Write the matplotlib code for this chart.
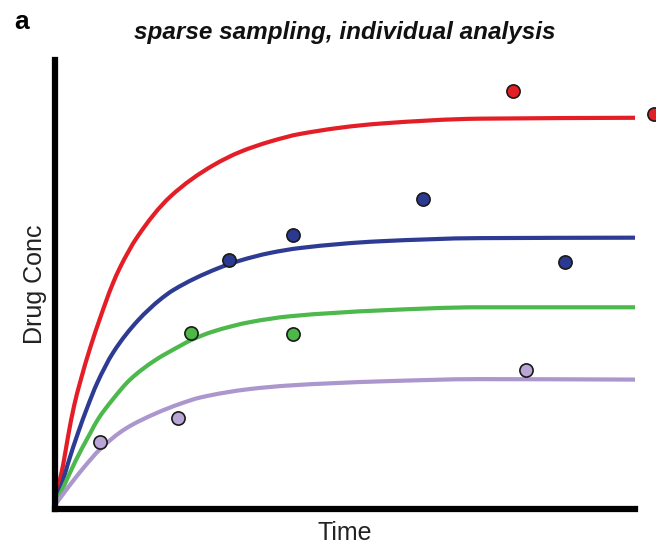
import matplotlib as mpl
mpl.use('Agg')
import matplotlib.pyplot as plt
from matplotlib.path import Path
from matplotlib.patches import PathPatch
import numpy as np

plt.rc('font', family=['Liberation Sans', 'DejaVu Sans'])

# ------------------------------------------------------------------
# Model curves (time and concentration, arbitrary units)
red_t = [0, 0.034, 0.138, 0.224, 0.328, 0.431, 0.603, 0.776, 0.983, 1.121,
         1.414, 1.983, 2.724, 3.190, 3.707, 4.224, 5.603, 7.328, 10.0]
red_c = [0.09, 0.36, 0.98, 1.62, 2.30, 2.82, 3.58, 4.25, 4.98, 5.38,
         6.05, 6.95, 7.65, 7.95, 8.18, 8.35, 8.58, 8.69, 8.71]
blue_t = [0, 0.121, 0.224, 0.397, 0.552, 0.724, 1.0, 1.431, 1.810, 2.034,
          2.793, 3.190, 3.707, 4.224, 5.603, 7.328, 10.0]
blue_c = [0.09, 0.57, 1.02, 1.70, 2.25, 2.80, 3.48, 4.20, 4.66, 4.87,
          5.35, 5.53, 5.70, 5.81, 5.96, 6.03, 6.04]
green_t = [0, 0.121, 0.345, 0.603, 0.741, 0.983, 1.293, 1.724, 2.155, 2.345,
           2.724, 3.362, 4.052, 5.603, 7.328, 10.0]
green_c = [0.09, 0.42, 1.05, 1.68, 2.00, 2.42, 2.88, 3.31, 3.63, 3.76,
           3.95, 4.16, 4.29, 4.42, 4.49, 4.49]
purple_t = [0, 0.103, 0.224, 0.362, 0.500, 0.776, 1.207, 1.759, 2.155, 2.500,
            3.362, 4.052, 5.603, 7.328, 10.0]
purple_c = [0.09, 0.27, 0.48, 0.71, 0.93, 1.33, 1.78, 2.14, 2.34, 2.48,
            2.67, 2.75, 2.84, 2.89, 2.88]

# sparse observations
red_obs_t = [7.9, 10.33]
red_obs_c = [9.30, 8.80]
blue_obs_t = [3.0, 4.1, 6.34, 8.79]
blue_obs_c = [5.54, 6.10, 6.90, 5.50]
green_obs_t = [2.34, 4.1]
green_obs_c = [3.92, 3.90]
purple_obs_t = [0.78, 2.12, 8.12]
purple_obs_c = [1.48, 2.02, 3.10]

line_cols = ['#E41E26', '#2E3B93', '#4DB84B', '#AB96CD']
dot_cols = ['#E31E24', '#2B3990', '#4DB848', '#B9A6D6']


def smooth_path(t, c):
    """Bezier path through the read points (monotone cubic tangents)."""
    t = np.asarray(t, float)
    c = np.asarray(c, float)
    h = np.diff(t)
    d = np.diff(c) / h
    m = np.zeros_like(c)
    m[0] = d[0]
    m[-1] = d[-1]
    for i in range(1, len(c) - 1):
        if d[i - 1] * d[i] <= 0:
            m[i] = 0.0
        else:
            w1 = 2 * h[i] + h[i - 1]
            w2 = h[i] + 2 * h[i - 1]
            m[i] = (w1 + w2) / (w1 / d[i - 1] + w2 / d[i])
    verts = [(t[0], c[0])]
    codes = [Path.MOVETO]
    for i in range(len(h)):
        verts += [(t[i] + h[i] / 3, c[i] + m[i] * h[i] / 3),
                  (t[i + 1] - h[i] / 3, c[i + 1] - m[i + 1] * h[i] / 3),
                  (t[i + 1], c[i + 1])]
        codes += [Path.CURVE4] * 3
    return Path(verts, codes)


fig = plt.figure(figsize=(6.56, 5.49), dpi=100)
ax = fig.add_axes([0.084, 0.073, 0.884, 0.818])

curves = [(red_t, red_c), (blue_t, blue_c), (green_t, green_c), (purple_t, purple_c)]
obs = [(red_obs_t, red_obs_c), (blue_obs_t, blue_obs_c),
       (green_obs_t, green_obs_c), (purple_obs_t, purple_obs_c)]

for k, (t, c) in enumerate(curves):
    patch = PathPatch(smooth_path(t, c), facecolor='none', edgecolor=line_cols[k],
                      lw=3.0, capstyle='butt', joinstyle='round', zorder=2)
    ax.add_patch(patch)

for k, (t, c) in enumerate(obs):
    ax.plot(t, c, 'o', ms=9.5, mfc=dot_cols[k], mec='#1a1a1a', mew=1.2,
            clip_on=False, zorder=3)

ax.set_xlim(0, 10)
ax.set_ylim(0, 10)
for s in ['top', 'right']:
    ax.spines[s].set_visible(False)
for s in ['left', 'bottom']:
    ax.spines[s].set_linewidth(4.5)
    ax.spines[s].set_color('black')
ax.set_xticks([])
ax.set_yticks([])

ax.set_xlabel('Time', fontsize=18, labelpad=9, color='#222222')
ax.set_ylabel('Drug Conc', fontsize=18, labelpad=6, color='#222222')
ax.set_title('sparse sampling, individual analysis', fontsize=17.5,
             fontweight='bold', fontstyle='italic', pad=15, color='#111111')
fig.text(0.022, 0.982, 'a', fontsize=19, fontweight='bold', va='top', ha='left')

plt.savefig('out.png', dpi=100)
